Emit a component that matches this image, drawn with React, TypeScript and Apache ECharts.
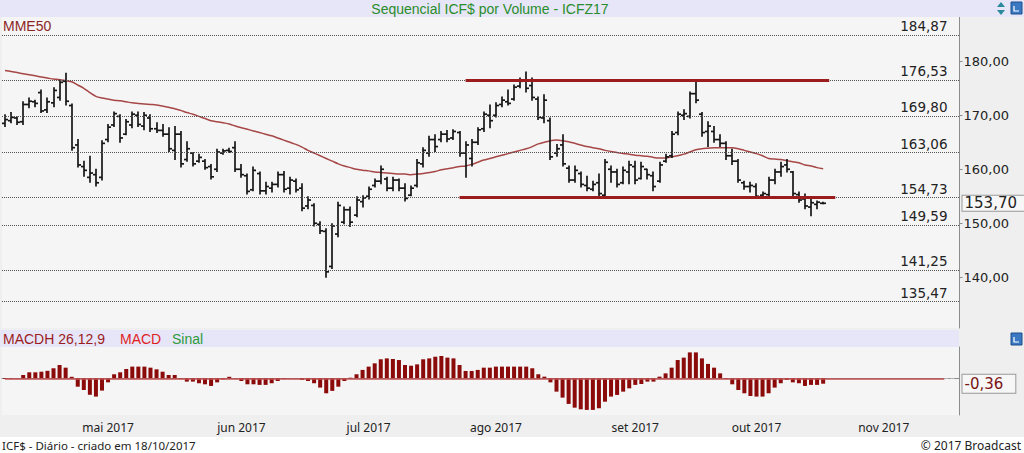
import React, { useEffect, useRef } from 'react';
import * as echarts from 'echarts';

// ---------- calendar ----------
const START = '2017-04-04';
const HOLIDAYS = ['2017-04-14', '2017-04-21', '2017-05-01', '2017-06-15', '2017-09-07', '2017-10-12', '2017-11-02', '2017-11-15'];
const FUTURE_DAYS = 22;
const MONTHS = ['jan', 'fev', 'mar', 'abr', 'mai', 'jun', 'jul', 'ago', 'set', 'out', 'nov', 'dez'];

// ---------- price bars (ICFZ17) ----------
const OPEN = [
  168.5, 169.0, 169.5, 168.8, 172.0, 172.5, 174.2, 171.0, 172.3, 173.3,
  176.3, 171.8, 164.5, 160.5, 158.5, 159.0, 158.5, 165.5, 168.2, 169.8,
  166.5, 168.2, 170.0, 168.0, 169.5, 167.5, 167.2, 166.5, 163.5, 166.5,
  161.8, 163.0, 161.5, 161.5, 160.5, 160.0, 163.0, 163.5, 164.0, 160.0,
  158.8, 156.2, 159.2, 156.0, 156.5, 157.2, 159.0, 156.5, 157.8, 156.5,
  153.2, 153.3, 149.8, 148.5, 142.0, 148.0, 150.2, 152.5, 151.5, 154.0,
  155.0, 157.0, 157.8, 158.2, 156.5, 158.0, 156.5, 155.2, 157.0, 161.0,
  163.0, 165.5, 165.5, 166.5, 165.8, 166.8, 163.0, 162.0, 165.0, 167.5,
  170.0, 170.0, 172.0, 172.5, 173.0, 175.4, 176.5, 175.5, 173.0, 169.5,
  169.0, 163.0, 164.5, 160.2, 158.0, 159.2, 157.0, 156.3, 157.5, 155.2,
  160.0, 159.5, 157.5, 159.5, 160.5, 158.3, 160.0, 158.8, 157.8, 161.5,
  162.5, 166.8, 170.0, 169.8, 174.0, 170.2, 167.0, 167.0, 165.5, 164.8,
  162.5, 161.5, 157.5, 156.8, 156.8, 155.2, 155.3, 158.0, 159.5, 160.8,
  159.5, 155.3, 154.5, 153.0, 153.5, 153.7,
];
const HIGH = [
  170.1, 170.5, 169.7, 172.5, 173.2, 172.8, 174.7, 173.2, 175.1, 176.5,
  177.8, 172.1, 165.5, 161.5, 162.4, 160.0, 165.3, 168.3, 170.6, 170.1,
  169.2, 170.6, 170.6, 170.5, 170.1, 168.6, 168.3, 167.7, 167.9, 167.0,
  165.1, 163.1, 162.8, 161.8, 160.9, 163.7, 163.7, 163.9, 165.1, 160.9,
  159.1, 160.4, 159.5, 157.6, 157.6, 159.5, 159.6, 158.5, 158.2, 157.3,
  154.9, 153.6, 150.3, 149.0, 149.9, 153.9, 153.0, 153.0, 154.9, 155.1,
  156.7, 158.2, 160.6, 158.5, 158.5, 158.2, 157.3, 156.9, 161.8, 164.0,
  166.1, 166.4, 167.0, 167.2, 167.3, 167.0, 165.1, 165.5, 167.7, 170.6,
  171.9, 172.3, 173.4, 174.7, 175.6, 176.9, 178.0, 176.9, 173.4, 173.8,
  169.5, 164.6, 166.4, 160.6, 160.6, 159.5, 158.7, 157.8, 159.1, 161.8,
  160.6, 160.0, 160.4, 161.5, 161.5, 161.3, 160.0, 159.5, 161.3, 162.8,
  167.0, 170.6, 171.0, 174.3, 176.2, 170.5, 168.8, 167.9, 166.4, 165.1,
  163.7, 161.8, 157.8, 157.6, 157.3, 155.8, 158.5, 160.0, 161.3, 161.8,
  159.6, 155.8, 155.4, 154.5, 154.1, 153.9,
];
const LOW = [
  167.9, 168.6, 168.3, 168.3, 171.4, 171.6, 170.5, 170.5, 171.6, 172.8,
  171.9, 163.5, 160.4, 158.7, 157.6, 156.9, 158.0, 165.1, 167.9, 165.0,
  166.4, 167.7, 167.9, 167.3, 167.0, 166.8, 166.1, 163.3, 161.8, 160.4,
  161.5, 160.6, 161.3, 160.0, 158.2, 159.6, 162.8, 163.1, 159.6, 158.5,
  155.4, 156.0, 155.4, 155.4, 155.8, 156.7, 155.8, 155.4, 155.8, 152.3,
  152.7, 149.5, 148.1, 140.0, 141.6, 147.5, 149.9, 149.4, 151.2, 153.0,
  154.5, 156.7, 157.3, 156.0, 156.0, 156.0, 154.1, 155.1, 156.7, 160.4,
  162.4, 163.3, 165.1, 165.1, 165.5, 162.4, 158.5, 160.6, 164.6, 167.0,
  167.7, 169.7, 171.6, 171.9, 172.8, 175.1, 174.3, 172.8, 169.2, 168.6,
  161.8, 162.4, 160.6, 157.6, 157.6, 156.7, 156.0, 156.0, 155.1, 154.7,
  157.6, 156.7, 157.3, 157.3, 157.3, 158.2, 158.2, 156.0, 157.6, 161.3,
  162.2, 166.4, 169.2, 169.5, 172.3, 166.1, 164.2, 165.0, 164.2, 161.8,
  160.9, 157.6, 156.3, 155.8, 154.6, 154.6, 154.7, 157.3, 158.7, 159.5,
  155.1, 153.9, 152.7, 151.4, 152.7, 153.6,
];
const CLOSE = [
  169.2, 169.6, 168.7, 172.0, 172.6, 172.2, 170.8, 172.5, 174.6, 176.1,
  172.6, 164.0, 160.8, 159.8, 159.3, 157.5, 164.8, 167.8, 170.3, 165.8,
  168.8, 170.2, 168.3, 170.0, 167.5, 167.2, 166.5, 163.8, 166.5, 161.0,
  163.8, 161.0, 162.2, 160.3, 158.6, 163.2, 163.4, 163.3, 160.0, 159.0,
  155.9, 159.8, 156.0, 156.8, 157.2, 159.0, 156.3, 158.0, 156.2, 152.8,
  154.3, 150.0, 148.6, 141.0, 149.5, 153.3, 152.5, 150.2, 154.3, 154.7,
  156.3, 157.8, 160.0, 156.5, 158.0, 156.5, 154.6, 156.5, 161.2, 163.5,
  165.5, 164.2, 166.5, 165.6, 167.0, 163.0, 164.5, 165.0, 167.3, 170.2,
  169.0, 171.8, 172.8, 172.2, 175.2, 176.3, 175.0, 173.3, 169.6, 172.8,
  162.3, 163.8, 161.0, 158.0, 159.8, 157.2, 156.5, 157.2, 155.5, 161.3,
  159.5, 157.2, 159.8, 160.8, 158.0, 160.5, 159.0, 156.8, 160.8, 162.3,
  166.5, 170.2, 170.3, 174.0, 172.8, 166.8, 168.0, 165.5, 164.8, 162.5,
  161.5, 158.0, 156.8, 157.0, 155.0, 155.5, 158.0, 159.5, 160.5, 160.0,
  155.5, 154.3, 153.2, 153.8, 153.9, 153.7,
];

// ---------- MME50 ----------
const MME50 = [
  178.3, 178.1, 177.9, 177.7, 177.5, 177.3, 177.1, 176.9, 176.7, 176.6,
  176.4, 176.2, 175.6, 175.0, 174.2, 173.5, 173.2, 173.0, 172.8, 172.7,
  172.5, 172.3, 172.2, 172.1, 172.0, 171.9, 171.7, 171.5, 171.2, 170.9,
  170.5, 170.2, 169.8, 169.4, 169.0, 168.8, 168.6, 168.4, 168.0, 167.7,
  167.4, 167.1, 166.8, 166.5, 166.2, 165.8, 165.4, 165.0, 164.6, 164.1,
  163.5, 163.0, 162.5, 162.0, 161.5, 161.0, 160.6, 160.3, 160.0, 159.8,
  159.7, 159.5, 159.4, 159.3, 159.2, 159.1, 159.1, 159.0, 159.1, 159.2,
  159.4, 159.6, 159.9, 160.1, 160.3, 160.5, 160.6, 160.9, 161.3, 161.7,
  162.0, 162.3, 162.6, 162.9, 163.2, 163.5, 163.8, 164.2, 164.7, 165.0,
  165.3, 165.4, 165.3, 165.1, 164.8, 164.5, 164.2, 164.0, 163.8, 163.5,
  163.3, 163.1, 162.9, 162.8, 162.6, 162.5, 162.4, 162.2, 162.1, 162.1,
  162.3, 162.5, 162.8, 163.2, 163.6, 163.8, 163.9, 164.0, 164.0, 164.0,
  164.0, 163.8, 163.5, 163.2, 162.9, 162.5, 162.0, 161.9, 161.8, 161.6,
  161.4, 161.2, 160.8, 160.6, 160.3, 160.1,
];

// ---------- MACD histogram (26,12,9) ----------
const MACDH = [
  -0.05, -0.04, 0.02, 0.22, 0.40, 0.40, 0.44, 0.50, 0.67, 0.89,
  0.71, 0.10, -0.56, -0.78, -1.10, -1.22, -0.82, -0.27, 0.27, 0.40,
  0.62, 0.78, 0.78, 0.78, 0.71, 0.60, 0.44, 0.22, 0.22, -0.05,
  -0.22, -0.22, -0.33, -0.40, -0.51, -0.27, -0.07, 0.10, 0.02, -0.18,
  -0.40, -0.40, -0.44, -0.44, -0.33, -0.18, -0.05, 0.02, -0.02, -0.11,
  -0.18, -0.33, -0.62, -1.00, -0.84, -0.56, -0.18, 0.04, 0.27, 0.56,
  0.78, 1.00, 1.27, 1.33, 1.29, 1.22, 0.89, 0.84, 0.93, 1.27,
  1.33, 1.44, 1.49, 1.38, 1.33, 0.89, 0.49, 0.49, 0.56, 0.71,
  0.71, 0.78, 0.78, 0.78, 0.78, 0.78, 0.78, 0.67, 0.27, 0.11,
  -0.27, -0.89, -1.29, -1.71, -1.96, -2.07, -2.11, -2.11, -2.00, -1.56,
  -1.22, -1.11, -0.89, -0.67, -0.44, -0.38, -0.22, -0.22, 0.11, 0.33,
  0.71, 1.22, 1.38, 1.73, 1.73, 1.33, 0.96, 0.71, 0.33, -0.04,
  -0.40, -0.78, -1.00, -1.18, -1.22, -1.22, -1.00, -0.62, -0.33, -0.11,
  -0.27, -0.33, -0.51, -0.44, -0.44, -0.36,
];

// ---------- levels & annotations ----------
const LEVELS = [184.87, 176.53, 169.80, 163.06, 154.73, 149.59, 141.25, 135.47];
const PRICE_TICKS = [140, 150, 160, 170, 180];
const TRENDLINES = [
  { from: '2017-07-25', to: '2017-10-19', value: 176.53 },
  { from: '2017-07-24', to: '2017-10-20', value: 154.73 },
];
const ZERO_LINE_END = '2017-11-17';
const LAST_PRICE = 153.70;
const LAST_MACDH = -0.36;

function tradingDays(start: string, count: number): string[] {
  const out: string[] = [];
  const d = new Date(start + 'T12:00:00Z');
  while (out.length < count) {
    const dow = d.getUTCDay();
    const s = d.toISOString().slice(0, 10);
    if (dow !== 0 && dow !== 6 && !HOLIDAYS.includes(s)) out.push(s);
    d.setUTCDate(d.getUTCDate() + 1);
  }
  return out;
}

const DATES = tradingDays(START, CLOSE.length + FUTURE_DAYS);
const isMonthStart = (i: number) => i > 0 && DATES[i].slice(5, 7) !== DATES[i - 1].slice(5, 7);
const monthLabel = (v: string) => MONTHS[Number(v.slice(5, 7)) - 1] + ' ' + v.slice(0, 4);
const fmt2 = (v: number) => v.toFixed(2).replace('.', ',');
const idx = (d: string) => DATES.indexOf(d);

const PLOT_BG = '#f5f5f5';
const HEADER_BG = '#e6e6f8';
const AXIS_C = '#8c8c8c';
const RED_LINE = '#9b1c1c';
const HIDDEN_LINE = { color: 'rgba(0,0,0,0)', width: 0.01, type: 'solid' };

function buildOption(): any {
  const ohlc = CLOSE.map((c, i) => [i, OPEN[i], HIGH[i], LOW[i], c]);
  const gridL = 2;
  const gridR = 64.5;

  return {
    animation: false,
    backgroundColor: '#efefef',
    grid: [
      { left: gridL, right: gridR, top: 17, height: 311, show: true, backgroundColor: PLOT_BG, borderWidth: 0 },
      { left: gridL, right: gridR, top: 347, height: 68, show: true, backgroundColor: PLOT_BG, borderWidth: 0 },
    ],
    xAxis: [
      { type: 'category', gridIndex: 0, data: DATES, boundaryGap: true, show: false },
      {
        type: 'category', gridIndex: 1, data: DATES, boundaryGap: true,
        axisLine: { lineStyle: { color: AXIS_C } },
        axisTick: { alignWithLabel: true, interval: (i: number) => isMonthStart(i), length: 4, lineStyle: { color: AXIS_C } },
        axisLabel: {
          interval: (i: number) => isMonthStart(i), formatter: monthLabel,
          color: '#222', fontSize: 12, fontFamily: 'Noto Sans', margin: 6,
        },
        splitLine: { show: false },
      },
    ],
    yAxis: [
      {
        type: 'value', gridIndex: 0, position: 'right', min: 130.6, max: 188.2,
        splitLine: { show: false },
        axisLine: { show: true, lineStyle: { color: AXIS_C } },
        axisTick: { show: true, length: 3, customValues: PRICE_TICKS, lineStyle: { color: AXIS_C } },
        axisLabel: {
          customValues: PRICE_TICKS, formatter: (v: number) => fmt2(v),
          color: '#222', fontSize: 13, fontFamily: 'DejaVu Sans', margin: 4,
        },
      },
      {
        type: 'value', gridIndex: 1, position: 'right', min: -2.45, max: 2.09,
        splitLine: { show: false },
        axisLine: { show: true, lineStyle: { color: AXIS_C } },
        axisTick: { show: false }, axisLabel: { show: false },
      },
    ],
    series: [
      {
        type: 'line', name: 'MME50', xAxisIndex: 0, yAxisIndex: 0, data: MME50,
        showSymbol: false, symbol: 'none', smooth: 0.3, z: 2,
        lineStyle: { color: '#a64646', width: 1.5 },
        markLine: {
          silent: true, symbol: ['none', 'none'], animation: false,
          label: { show: false },
          data: [
            ...LEVELS.map((v) => ({
              yAxis: v,
              lineStyle: { type: 'dotted', color: '#555', width: 1 },
              label: {
                show: true, position: 'insideEndTop', formatter: fmt2(v),
                color: '#222', fontSize: 13.5, fontFamily: 'DejaVu Sans', distance: [12, 2],
              },
            })),
            ...TRENDLINES.map((t) => [
              { coord: [idx(t.from), t.value], lineStyle: { type: 'solid', color: RED_LINE, width: 3 }, label: { show: false } },
              { coord: [idx(t.to), t.value] },
            ]),
          ],
        },
      },
      {
        type: 'line', name: 'Último', xAxisIndex: 0, yAxisIndex: 0, data: [],
        showSymbol: false, symbol: 'none', z: 5,
        markLine: {
          silent: true, symbol: ['none', 'none'], animation: false,
          data: [
            {
              yAxis: LAST_PRICE, lineStyle: HIDDEN_LINE,
              label: {
                show: true, position: 'end', formatter: fmt2(LAST_PRICE),
                color: '#222', fontSize: 15, fontFamily: 'DejaVu Sans',
                backgroundColor: '#f7f7f7', borderColor: '#999', borderWidth: 1,
                padding: [0, 8, 0, 2], distance: 3,
              },
            },
          ],
        },
      },
      {
        type: 'custom', name: 'ICFZ17', xAxisIndex: 0, yAxisIndex: 0, data: ohlc, z: 3, clip: true,
        encode: { x: 0, y: [1, 2, 3, 4] },
        renderItem: (params: any, api: any) => {
          const i = api.value(0);
          const pO = api.coord([i, api.value(1)]);
          const x = Math.round(pO[0]);
          const yo = pO[1];
          const yh = api.coord([i, api.value(2)])[1];
          const yl = api.coord([i, api.value(3)])[1];
          const yc = api.coord([i, api.value(4)])[1];
          const st = { stroke: '#161616', lineWidth: 1.7 };
          return {
            type: 'group',
            children: [
              { type: 'line', shape: { x1: x, y1: yh - 0.5, x2: x, y2: yl + 0.5 }, style: st },
              { type: 'line', shape: { x1: x - 3, y1: yo, x2: x, y2: yo }, style: st },
              { type: 'line', shape: { x1: x, y1: yc, x2: x + 3, y2: yc }, style: st },
            ],
          };
        },
      },
      {
        type: 'bar', name: 'MACDH', xAxisIndex: 1, yAxisIndex: 1, data: MACDH,
        barWidth: 4, itemStyle: { color: '#8b0a0a' }, z: 3,
        markLine: {
          silent: true, symbol: ['none', 'none'], animation: false,
          label: { show: false },
          data: [
            [
              { coord: [0, 0], lineStyle: { type: 'solid', color: '#c25050', width: 1.5 }, label: { show: false } },
              { coord: [idx(ZERO_LINE_END), 0] },
            ],
            [
              { coord: [idx(ZERO_LINE_END), 0], lineStyle: { type: 'dashed', color: '#b5b5b5', width: 1 }, label: { show: false } },
              { coord: [DATES.length - 1, 0] },
            ],
          ],
        },
      },
      {
        type: 'line', name: 'MACDH último', xAxisIndex: 1, yAxisIndex: 1, data: [],
        showSymbol: false, symbol: 'none', z: 5,
        markLine: {
          silent: true, symbol: ['none', 'none'], animation: false,
          data: [
            {
              yAxis: LAST_MACDH, lineStyle: HIDDEN_LINE,
              label: {
                show: true, position: 'end', formatter: fmt2(LAST_MACDH),
                color: '#7a1414', fontSize: 15, fontFamily: 'DejaVu Sans',
                backgroundColor: '#f7f7f7', borderColor: '#999', borderWidth: 1,
                padding: [2, 12, 1, 2], distance: 3,
              },
            },
          ],
        },
      },
    ],
    graphic: [
      { type: 'rect', z: 100, shape: { x: 0, y: 0, width: 1024, height: 17 }, style: { fill: HEADER_BG } },
      {
        type: 'text', z: 101, x: 490, y: 9,
        style: { text: 'Sequencial ICF$ por Volume - ICFZ17', fill: '#2a8c2a', fontSize: 14, fontFamily: 'Liberation Sans', align: 'center', verticalAlign: 'middle' },
      },
      { type: 'polygon', z: 101, shape: { points: [[997, 7], [1001, 2], [1005, 7]] }, style: { fill: '#2a8a9c' } },
      { type: 'polygon', z: 101, shape: { points: [[997, 10], [1001, 15], [1005, 10]] }, style: { fill: '#2a8a9c' } },
      { type: 'rect', z: 101, shape: { x: 1011, y: 2, width: 11, height: 12 }, style: { fill: '#3a78c2', stroke: '#1d4f8a', lineWidth: 1 } },
      { type: 'polyline', z: 102, shape: { points: [[1014, 6], [1014, 11], [1019, 11]] }, style: { stroke: '#ffffff', lineWidth: 1.2, fill: 'none' } },
      {
        type: 'text', z: 101, x: 3, y: 26,
        style: { text: 'MME50', fill: '#8c2626', fontSize: 14, fontFamily: 'Liberation Sans', verticalAlign: 'middle', backgroundColor: PLOT_BG, padding: [0, 3, 0, 0] },
      },
      { type: 'rect', z: 100, shape: { x: 0, y: 330, width: 959, height: 17 }, style: { fill: HEADER_BG } },
      { type: 'text', z: 101, x: 3, y: 339, style: { text: 'MACDH 26,12,9', fill: '#9b1c1c', fontSize: 14, fontFamily: 'Liberation Sans', verticalAlign: 'middle' } },
      { type: 'text', z: 101, x: 120, y: 339, style: { text: 'MACD', fill: '#e01e1e', fontSize: 14, fontFamily: 'Liberation Sans', verticalAlign: 'middle' } },
      { type: 'text', z: 101, x: 172, y: 339, style: { text: 'Sinal', fill: '#2e9a3a', fontSize: 14, fontFamily: 'Liberation Sans', verticalAlign: 'middle' } },
      { type: 'rect', z: 101, shape: { x: 1011, y: 333, width: 11, height: 12 }, style: { fill: '#3a78c2', stroke: '#1d4f8a', lineWidth: 1 } },
      { type: 'polyline', z: 102, shape: { points: [[1014, 337], [1014, 342], [1019, 342]] }, style: { stroke: '#ffffff', lineWidth: 1.2, fill: 'none' } },
      { type: 'rect', z: 100, shape: { x: 0, y: 437, width: 1024, height: 16 }, style: { fill: '#ffffff' } },
      { type: 'text', z: 101, x: 2, y: 445, style: { text: 'ICF$ - Diário - criado em 18/10/2017', fill: '#222', fontSize: 11.5, fontFamily: 'Noto Sans', verticalAlign: 'middle' } },
      { type: 'text', z: 101, x: 1021, y: 445, style: { text: '© 2017 Broadcast', fill: '#222', fontSize: 12, fontFamily: 'Noto Sans', align: 'right', verticalAlign: 'middle' } },
    ],
  };
}

export default function App() {
  const ref = useRef<HTMLDivElement>(null);
  useEffect(() => {
    document.body.style.margin = '0';
    const chart = echarts.init(ref.current as HTMLDivElement, null, { renderer: 'svg' });
    chart.setOption(buildOption());
    return () => chart.dispose();
  }, []);
  return <div ref={ref} style={{ width: 1024, height: 453 }} />;
}
